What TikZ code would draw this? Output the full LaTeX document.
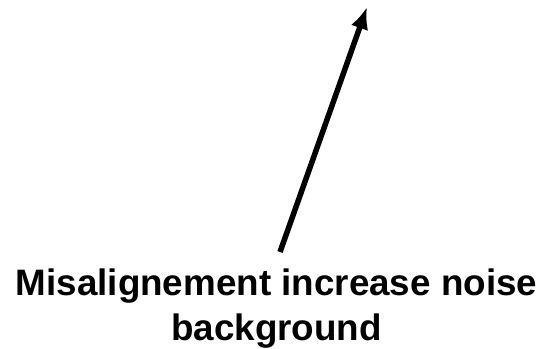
\documentclass[tikz,border=0pt]{standalone}
\usepackage{fontspec}
\setmainfont{Liberation Sans}
\usetikzlibrary{arrows.meta,positioning}

\begin{document}
\begin{tikzpicture}[
    x=1pt, y=-1pt,
    caption/.style={font=\fontsize{36.8}{45}\selectfont\bfseries, align=center, inner sep=0pt},
    pointer/.style={-{Latex[length=22pt, width=18pt]}, line width=5.5pt, black}
]
\useasboundingbox (0,0) rectangle (543,348);

% Label
\node[caption, anchor=base] (misalign) at (276.5,340) {Misalignement increase noise\\background};

% Arrow ends
\coordinate (tail) at (280,252);
\coordinate (tip) at (367,7);

% Arrow
\draw[pointer] (tail) -- (tip);

\end{tikzpicture}
\end{document}
